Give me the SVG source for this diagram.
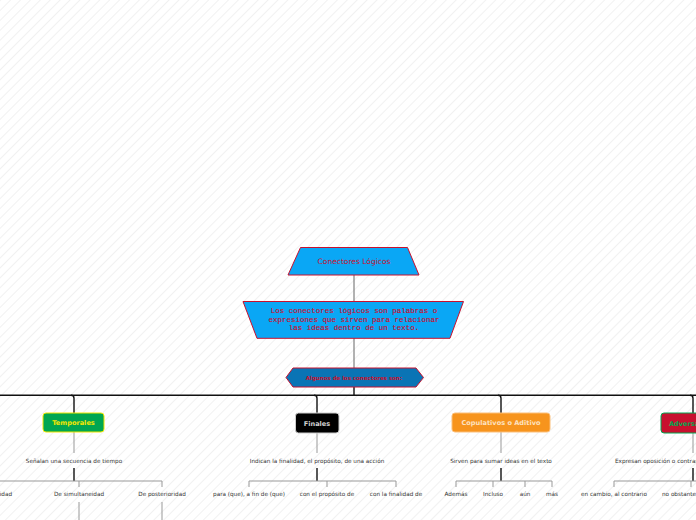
<svg xmlns="http://www.w3.org/2000/svg" width="696" height="520" viewBox="0 0 696 520">
<defs>
<pattern id="bg" width="7" height="7" patternUnits="userSpaceOnUse" patternTransform="rotate(45)">
<line x1="0.5" y1="0" x2="0.5" y2="7" stroke="#f1f1f1" stroke-width="1"/>
</pattern>
<style>
.sub{font-family:"DejaVu Sans",sans-serif;font-size:5.7px;fill:#333;text-anchor:middle}
.lbl{font-family:"DejaVu Sans",sans-serif;font-size:6.6px;font-weight:bold;text-anchor:middle}
.thin{stroke:#999;stroke-width:1;fill:none}
.dark{stroke:#111;stroke-width:1.4;fill:none}
.ctr{stroke:#666;stroke-width:1;fill:none}
</style>
</defs>
<rect width="696" height="520" fill="#fff"/>
<rect width="696" height="520" fill="url(#bg)"/>

<g id="connectors">
<line class="ctr" x1="354" y1="275" x2="354" y2="302"/>
<line class="ctr" x1="354" y1="338" x2="354" y2="368"/>
<line class="dark" x1="354" y1="387" x2="354" y2="395.3"/>
<line class="dark" x1="0" y1="395.3" x2="696" y2="395.3"/>
<path class="dark" d="M71,395.3 Q74,395.3 74,398.3 V413"/>
<path class="dark" d="M314,395.3 Q317,395.3 317,398.3 V413"/>
<path class="dark" d="M498,395.3 Q501,395.3 501,398.3 V413"/>
<path class="dark" d="M690,395.3 Q693,395.3 693,398.3 V413"/>
<line class="thin" x1="74" y1="432" x2="74" y2="453"/>
<line class="thin" x1="317" y1="433" x2="317" y2="453"/>
<line class="thin" x1="501" y1="432" x2="501" y2="453"/>
<line class="thin" x1="693" y1="433" x2="693" y2="453"/>
<line class="dark" x1="74" y1="468" x2="74" y2="481"/>
<line class="dark" x1="317" y1="468" x2="317" y2="481"/>
<line class="dark" x1="501" y1="468" x2="501" y2="481"/>
<line class="dark" x1="693" y1="468" x2="693" y2="481"/>
<path class="thin" d="M0,481 H162 V487 M79,481 V487"/>
<path class="thin" d="M249,487 V481 H396 V487 M327,481 V487"/>
<path class="thin" d="M456,487 V481 H552 V487 M493,481 V487 M525,481 V487"/>
<path class="thin" d="M614,487 V481 H696 M691,481 V487"/>
<line class="thin" x1="79" y1="502" x2="79" y2="520"/>
<line class="thin" x1="162" y1="502" x2="162" y2="520"/>
</g>

<g id="n-conectores">
<polygon points="300.5,247.5 407.5,247.5 419,275 288,275" fill="#0aa7f5" stroke="#c8102e" stroke-width="1"/>
<text x="354" y="264" font-family="'DejaVu Sans',sans-serif" font-size="7.5" fill="#c8102e" text-anchor="middle">Conectores Lógicos</text>
</g>

<g id="n-definicion">
<polygon points="243,301.5 463.5,301.5 450,338.3 257,338.3" fill="#0aa7f5" stroke="#c8102e" stroke-width="1"/>
<g font-family="'Liberation Mono',monospace" font-size="7.5" fill="#c8102e" text-anchor="middle" stroke="#c8102e" stroke-width="0.15">
<text x="354" y="313">Los conectores lógicos son palabras o</text>
<text x="354" y="321.7">expresiones que sirven para relacionar</text>
<text x="354" y="330.4">las ideas dentro de un texto.</text>
</g>
</g>

<g id="n-algunos">
<polygon points="293,368 416,368 423.5,377.5 416,387 293,387 286,377.5" fill="#0a74b5" stroke="#c8102e" stroke-width="1"/>
<text x="354" y="379.5" font-family="'DejaVu Sans',sans-serif" font-size="5.5" font-weight="bold" fill="#c8102e" text-anchor="middle">Algunos de los conectores son:</text>
</g>

<g id="n-temporales">
<rect x="43" y="413" width="61" height="19" rx="3" fill="#00a651" stroke="#f2e600" stroke-width="1"/>
<text class="lbl" x="73.5" y="425" fill="#f2e600">Temporales</text>
<text class="sub" x="74" y="463">Señalan una secuencia de tiempo</text>
<text class="sub" x="12" y="496" style="text-anchor:end">De anterioridad</text>
<text class="sub" x="79" y="496">De simultaneidad</text>
<text class="sub" x="162" y="496">De posterioridad</text>
</g>

<g id="n-finales">
<rect x="295.5" y="413" width="43.5" height="20" rx="3" fill="#000" stroke="#ccc" stroke-width="1"/>
<text class="lbl" x="317" y="425.5" fill="#cfcfcf">Finales</text>
<text class="sub" x="317" y="463">Indican la finalidad, el propósito, de una acción</text>
<text class="sub" x="249" y="496">para (que), a fin de (que)</text>
<text class="sub" x="327" y="496">con el propósito de</text>
<text class="sub" x="396" y="496">con la finalidad de</text>
</g>

<g id="n-copulativos">
<rect x="452" y="413" width="98" height="19" rx="3" fill="#f7941d" stroke="#fbbf7a" stroke-width="1"/>
<text class="lbl" x="501" y="425" fill="#fde2c0">Copulativos o Aditivo</text>
<text class="sub" x="501" y="463">Sirven para sumar ideas en el texto</text>
<text class="sub" x="456" y="496">Además</text>
<text class="sub" x="493" y="496">Incluso</text>
<text class="sub" x="525" y="496">aún</text>
<text class="sub" x="552" y="496">más</text>
</g>

<g id="n-adversativos">
<rect x="661" y="413" width="64" height="20" rx="3" fill="#c8102e" stroke="#00a651" stroke-width="1"/>
<text class="lbl" x="669" y="425.5" fill="#00a651" style="text-anchor:start">Adversativos</text>
<text class="sub" x="615" y="463" style="text-anchor:start">Expresan oposición o contraste</text>
<text class="sub" x="614" y="496">en cambio, al contrario</text>
<text class="sub" x="662" y="496" style="text-anchor:start">no obstante, sin embargo</text>
</g>
</svg>
